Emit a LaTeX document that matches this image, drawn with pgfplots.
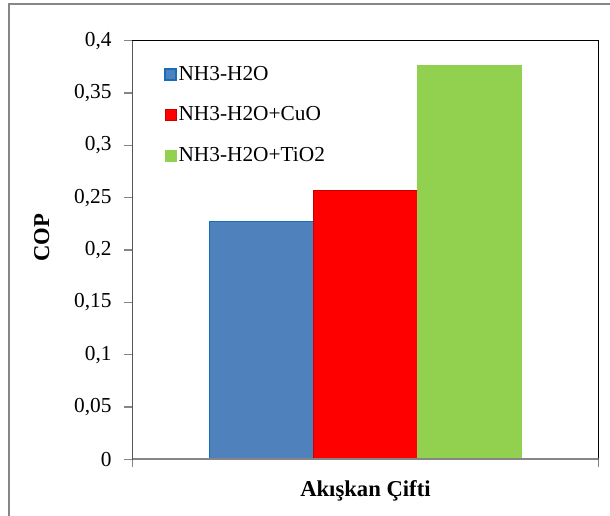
\documentclass[border=0pt]{standalone}
\usepackage{pgfplots}
\pgfplotsset{compat=1.18}
\usepackage{fontspec}
\setmainfont{Liberation Serif}
\definecolor{cblue}{RGB}{79,129,189}
\definecolor{cblueedge}{RGB}{20,110,190}
\definecolor{cred}{RGB}{255,0,0}
\definecolor{credge}{RGB}{200,0,0}
\definecolor{cgreen}{RGB}{146,208,80}
\definecolor{framegray}{RGB}{134,134,134}
\definecolor{axgray}{RGB}{134,134,134}
\begin{document}
\begin{tikzpicture}
\useasboundingbox (0,0) rectangle (457.5pt,387pt);
\draw[framegray, line width=1.5pt] (6.75pt,-3pt) -- (6.75pt,384pt) -- (462pt,384pt);
\begin{axis}[
  at={(99.2pt,42.5pt)}, anchor=south west,
  scale only axis, width=349.8pt, height=313.95pt,
  ybar=0pt, bar width=78pt,
  xmin=-0.5, xmax=0.5, ymin=0, ymax=0.4,
  xtick={-0.5,0.5}, xticklabels={},
  ytick={0,0.05,0.1,0.15,0.2,0.25,0.3,0.35,0.4},
  yticklabel style={/pgf/number format/.cd, use comma, fixed, precision=2, assume math mode=true, /tikz/.cd, xshift=-6pt},
  ticklabel style={font=\fontsize{16}{19}\selectfont},
  tick align=outside, xtick pos=bottom, ytick pos=left,
  major tick length=6pt,
  tick style={axgray, line width=1.1pt},
  axis line style={black, line width=1pt},
  xlabel={\textbf{Akışkan Çifti}},
  ylabel={\textbf{COP}},
  xlabel style={font=\fontsize{17}{20}\selectfont, at={(axis description cs:0.5,-0.0757)}, anchor=center},
  ylabel style={font=\fontsize{17}{20}\selectfont, at={(axis description cs:-0.194,0.529)}, anchor=center},
  legend style={at={(axis description cs:0.068,0.9443)}, anchor=north west, draw=none, fill=none,
    font=\fontsize{16}{19}\selectfont, row sep=15.3pt, inner sep=0pt, nodes={inner sep=1.5pt}},
  legend cell align=left,
  legend image code/.code={\draw[#1] (0pt,-4.1pt) rectangle (8.25pt,4.1pt);},
]
\addplot[fill=cblue, draw=cblueedge, line width=1pt] coordinates {(0,0.227)};
\addplot[fill=cred, draw=credge, line width=0.6pt] coordinates {(0,0.257)};
\addplot[fill=cgreen, draw=cgreen, line width=0.3pt] coordinates {(0,0.377)};
\legend{NH3-H2O, NH3-H2O+CuO, NH3-H2O+TiO2}
\draw[axgray, line width=1.5pt] (rel axis cs:0,1) -- (rel axis cs:0,0) -- (rel axis cs:1,0);
\end{axis}
\end{tikzpicture}
\end{document}
